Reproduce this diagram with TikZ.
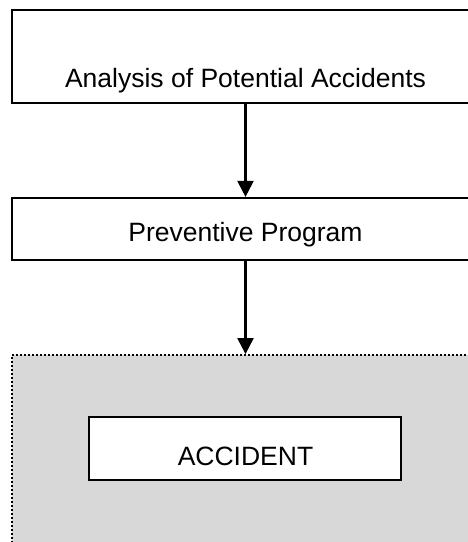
\documentclass[tikz,border=0pt]{standalone}
\usepackage{fontspec}
\setmainfont{Liberation Sans}
\usetikzlibrary{arrows.meta}
\definecolor{zonegray}{HTML}{D8D8D8}
\begin{document}
\begin{tikzpicture}[x=1pt,y=-1pt,
  box/.style={draw=black, line width=2.2pt, fill=white, inner sep=0pt},
  label/.style={font=\fontsize{26.5}{30}\selectfont, inner sep=0pt, anchor=base},
  flow/.style={line width=2.2pt, -{Triangle[width=16pt,length=16pt]}},
  zonebox/.style={draw=black, fill=zonegray, line width=1.8pt,
    dash pattern=on 1.6pt off 2.4pt, inner sep=0pt}]
  \useasboundingbox (0,0) rectangle (468,542);
  \clip (0,0) rectangle (468,542);

  % shaded region holding the accident
  \node[zonebox, minimum width=467pt, minimum height=220pt] (zone) at (245.5,465) {};

  % stage boxes
  \node[box, minimum width=467pt, minimum height=93pt] (analysis) at (245.5,56.5) {};
  \node[label] (analysistext) at (245.5,87) {Analysis of Potential Accidents};

  \node[box, minimum width=467pt, minimum height=62pt] (program) at (245.5,229) {};
  \node[label] (programtext) at (245.5,241.5) {Preventive Program};

  \node[box, minimum width=312pt, minimum height=63pt] (accident) at (245,448.5) {};
  \node[label] (accidenttext) at (245.5,465) {ACCIDENT};

  % connectors
  \draw[flow] (analysis.south) -- (program.north);
  \draw[flow] (program.south) -- (zone.north);
\end{tikzpicture}
\end{document}
